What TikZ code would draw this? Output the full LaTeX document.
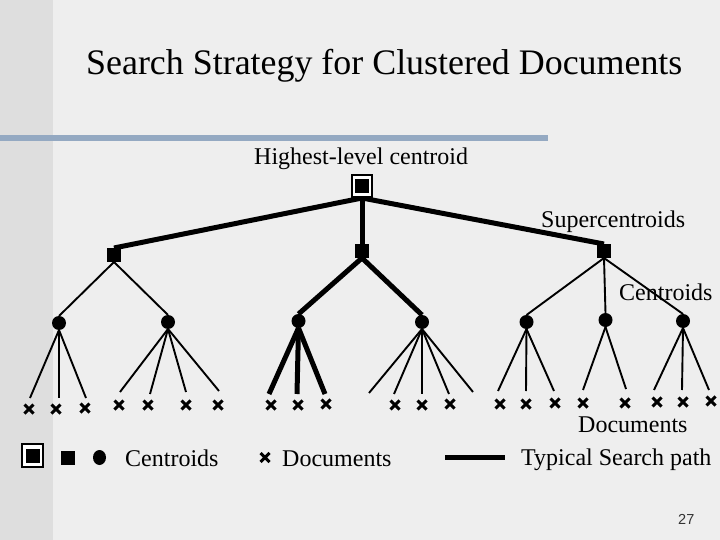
\documentclass[tikz,border=0pt]{standalone}
\usepackage{fontspec}
\setmainfont{Liberation Serif}
\setsansfont{Liberation Sans}
\usetikzlibrary{shapes.misc,shapes.geometric}
\definecolor{bgc}{HTML}{EEEEEE}
\definecolor{bandc}{HTML}{DEDEDE}
\definecolor{barc}{HTML}{94A9C2}
\tikzset{
 x=1pt,y=-1pt,
 super/.style={fill=black,draw=none,minimum size=14pt,inner sep=0pt,outer sep=0pt},
 cen/.style={fill=black,draw=none,circle,minimum size=14pt,inner sep=0pt,outer sep=0pt},
 doc/.style={draw=black,cross out,line width=3pt,minimum size=9pt,inner sep=0pt,outer sep=0pt},
 thin edge/.style={line width=1.9pt,black},
 thick edge/.style={line width=5pt,black},
 lab/.style={font=\fontsize{24}{24}\selectfont,inner sep=0pt,anchor=base west,text=black},
}
\begin{document}
\begin{tikzpicture}
\useasboundingbox (0,0) rectangle (720,540);
\fill[bgc] (0,0) rectangle (720,540);
\fill[bandc] (0,0) rectangle (53,540);
\fill[barc] (0,135) rectangle (548,141);
\node[lab,font=\fontsize{35.9}{36}\selectfont] (title) at (86,75) {Search Strategy for Clustered Documents};
\node[lab] (lhigh) at (254,165) {Highest-level centroid};
\node[lab] (lsuper) at (541,228) {Supercentroids};
\node[lab] (lcen) at (619,300) {Centroids};
\node[lab] (ldocs) at (578,432) {Documents};
\node[lab] (lpath) at (521,465) {Typical Search path};
\node[lab] (lc2) at (125,466) {Centroids};
\node[lab] (ld2) at (282,466) {Documents};
\node[lab,font=\sffamily\fontsize{14.5}{14}\selectfont,text=black!80] (pg) at (678,524) {27};
% root symbol
\node[fill=white,draw=black,line width=2pt,minimum width=20pt,minimum height=22pt,inner sep=0pt] (rootbox) at (362,186) {};
\node[fill=black,minimum width=14pt,minimum height=14pt,inner sep=0pt] (rootin) at (362,186) {};
% nodes
\node[super] (sa) at (114,255) {};
\node[super] (sb) at (362,251) {};
\node[super] (sc) at (604,251) {};
\node[cen] (c1) at (59,323) {};
\node[cen] (c2) at (168,322) {};
\node[cen] (c3) at (298.5,321) {};
\node[cen] (c4) at (422,322) {};
\node[cen] (c5) at (526.5,322) {};
\node[cen] (c6) at (605.5,320) {};
\node[cen] (c7) at (683,321) {};
% free ends
\foreach \n/\x/\y in {e1a/30/398,e1b/59/398,e1c/86/398,
 e2a/120/392,e2b/150/394,e2c/186/392,e2d/219/391,
 e3a/269/394,e3b/297/394,e3c/325/394,
 e4a/369/393,e4b/394/394,e4c/422/394,e4d/449/394,e4e/473/392,
 e5a/498/391,e5b/526/391,e5c/554/391,
 e6a/583/390,e6b/626/389,
 e7a/654/390,e7b/682/390,e7c/709/390}
 \coordinate (\n) at (\x,\y);
\draw[thick edge] (rootbox.south) -- (sa.north);
\draw[thick edge] (rootbox.south) -- (sb.north);
\draw[thick edge] (rootbox.south) -- (sc.north);
\draw[thick edge] (sb.south) -- (c3.north);
\draw[thick edge] (sb.south) -- (c4.north);
\draw[thin edge] (sa.south) -- (c1.north);
\draw[thin edge] (sa.south) -- (c2.north);
\draw[thin edge] (sc.south) -- (c5.north);
\draw[thin edge] (sc.south) -- (c6.north);
\draw[thin edge] (sc.south) -- (c7.north);
\foreach \c/\es in {c1/{e1a,e1b,e1c},c2/{e2a,e2b,e2c,e2d},c4/{e4a,e4b,e4c,e4d,e4e},c5/{e5a,e5b,e5c},c6/{e6a,e6b},c7/{e7a,e7b,e7c}}
 \foreach \e in \es \draw[thin edge] (\c.south) -- (\e);
\foreach \e in {e3a,e3b,e3c} \draw[thick edge] (c3.south) -- (\e);
% redraw root symbol over the edges
\node[fill=white,draw=black,line width=2pt,minimum width=20pt,minimum height=22pt,inner sep=0pt] (rootboxtop) at (362,186) {};
\node[fill=black,minimum width=14pt,minimum height=14pt,inner sep=0pt] (rootintop) at (362,186) {};
% documents
\foreach \n/\x/\y in {d1/29/409,d2/56/409,d3/85/408,
 d4/119/405,d5/148/405,d6/186/405,d7/218/405,
 d8/271/405,d9/298/405,d10/326/404,
 d11/395/405,d12/422/405,d13/450/404,
 d14/500/404,d15/526/404,d16/555/403,
 d17/583/403,d18/625/403,
 d19/657/402,d20/683/402,d21/711/401}
 \node[doc] (\n) at (\x,\y) {};
% legend
\node[fill=white,draw=black,line width=2pt,minimum width=21pt,minimum height=23pt,inner sep=0pt] (lg1) at (32.5,455.5) {};
\node[fill=black,minimum width=14pt,minimum height=14pt,inner sep=0pt] (lg1i) at (32.5,455.5) {};
\node[super] (lg2) at (68,457.5) {};
\node[fill=black,ellipse,minimum width=13pt,minimum height=15pt,inner sep=0pt] (lg3) at (99.5,457.5) {};
\node[doc] (lg4) at (265,457.5) {};
\coordinate (la) at (445,457.5);
\coordinate (lb) at (505,457.5);
\draw[line width=5pt] (la) -- (lb);
\end{tikzpicture}
\end{document}
